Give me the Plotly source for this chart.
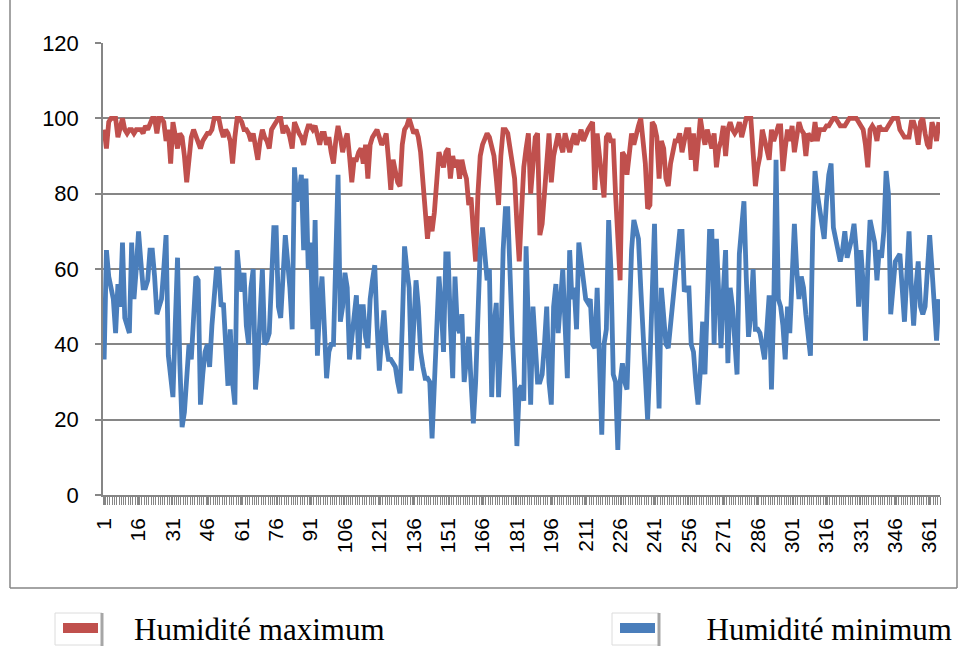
import plotly.graph_objects as go

days = list(range(1, 366))

hum_max = [
    97, 92, 99, 100, 100, 100, 95, 97, 100, 97, 96, 97, 97, 96, 97, 97, 97, 96, 98, 97,
    99, 100, 100, 96, 100, 100, 99, 94, 97, 88, 99, 95, 92, 96, 95, 90, 83,
    89, 95, 97, 95, 94, 92, 94, 95, 96, 96, 97, 100, 100, 100, 97, 95, 97, 96, 94, 88,
    95, 100, 100, 99, 97, 97, 96, 94, 96, 92, 89, 94, 97, 95, 94, 92, 97, 98,
    99, 100, 100, 96, 98, 97, 95, 92, 99, 97, 96, 95, 93, 96, 98, 98, 97, 98, 96, 93,
    96, 96, 93, 95, 91, 88, 94, 98, 95, 91, 94, 96, 90, 83, 89, 89, 91, 92,
    88, 93, 84, 93, 95, 96, 97, 95, 93, 94, 96, 89, 81, 89, 86, 83, 82, 93, 97, 98,
    100, 98, 96, 97, 95, 91, 84, 75, 68, 74, 70, 75, 84, 91, 89, 87, 91,
    92, 84, 90, 87, 89, 84, 89, 86, 84, 77, 79, 70, 62, 80, 90, 93, 95, 96, 95, 93,
    90, 84, 77, 90, 97, 97, 96, 92, 88, 84, 72, 62, 75, 87, 92, 96, 80,
    90, 95, 96, 69, 72, 80, 87, 96, 83, 90, 93, 96, 93, 91, 96, 94, 91, 94, 96, 93,
    95, 97, 94, 96, 97, 98, 99, 81, 96, 90, 84, 79, 95, 96, 94, 94, 80, 67,
    57, 91, 90, 85, 91, 96, 93, 96, 98, 100, 95, 88, 76, 77, 99, 98, 95, 84, 94, 92,
    84, 82, 88, 92, 94, 94, 96, 91, 95, 97, 97, 89, 96, 86, 93,
    100, 96, 93, 97, 94, 92, 96, 87, 92, 94, 98, 90, 97, 99, 97, 96, 97, 99, 95, 97,
    100, 100, 100, 91, 82, 87, 90, 97, 94, 91, 89, 97, 94, 96, 98, 98, 86, 92,
    97, 94, 98, 91, 95, 99, 97, 96, 90, 96, 95, 94, 99, 94, 97, 97, 97, 98, 98, 99,
    100, 100, 99, 98, 98, 98, 99, 100, 100, 100, 100, 99, 98, 97, 93, 87, 97,
    98, 97, 94, 98, 97, 97, 97, 98, 99, 100, 100, 100, 97, 96, 95, 95, 95, 99, 99, 97,
    93, 99, 100, 96, 93, 92, 99, 97, 94, 99,
]

hum_min = [
    36, 65, 58, 55, 52, 43, 56, 50, 67, 47, 45, 43, 67, 52, 60, 70, 62, 55, 55, 57,
    65, 65, 58, 48, 50, 52, 60, 69, 37, 30, 26, 45, 63, 35, 18, 22, 30,
    40, 36, 50, 58, 57, 24, 32, 38, 40, 34, 45, 55, 60, 60, 50, 51, 40, 29, 44, 30,
    24, 65, 58, 54, 59, 45, 40, 55, 60, 28, 35, 45, 60, 40, 41, 43, 60, 71,
    71, 50, 47, 60, 69, 62, 55, 44, 87, 78, 80, 85, 65, 84, 60, 67, 44, 73, 37, 50,
    58, 45, 31, 38, 40, 40, 60, 85, 46, 50, 59, 55, 36, 42, 48, 53, 36, 50,
    50, 42, 39, 52, 57, 61, 45, 33, 42, 49, 40, 36, 36, 35, 34, 30, 27, 45, 66, 60,
    55, 33, 45, 57, 50, 38, 34, 31, 31, 30, 15, 30, 45, 58, 50, 38, 64,
    64, 45, 31, 58, 45, 43, 48, 30, 36, 42, 30, 19, 30, 45, 65, 71, 62, 57, 60, 26,
    45, 51, 26, 40, 65, 76, 76, 55, 42, 30, 13, 28, 29, 25, 66, 45, 24,
    50, 40, 30, 30, 32, 40, 50, 30, 24, 50, 56, 43, 50, 60, 45, 31, 65, 52, 55, 44,
    67, 62, 55, 52, 51, 52, 40, 39, 55, 35, 16, 40, 44, 73, 60, 32, 30, 12,
    30, 35, 30, 28, 50, 65, 73, 70, 68, 55, 44, 30, 20, 35, 50, 72, 45, 23, 55, 45,
    40, 39, 45, 52, 58, 64, 70, 70, 54, 55, 55, 40, 38, 30, 24,
    33, 46, 32, 55, 70, 70, 40, 68, 50, 39, 54, 65, 35, 55, 50, 40, 32, 64, 70, 78,
    58, 42, 48, 60, 44, 44, 43, 40, 36, 44, 53, 28, 50, 89, 52, 50, 45, 36,
    50, 43, 60, 72, 60, 52, 58, 55, 48, 42, 37, 70, 86, 80, 76, 74, 68, 78, 85, 88,
    71, 68, 65, 62, 65, 70, 63, 65, 68, 72, 65, 50, 65, 56, 41, 60, 73,
    70, 67, 57, 65, 63, 70, 86, 80, 48, 55, 62, 63, 64, 55, 46, 58, 70, 55, 45, 55,
    62, 50, 48, 50, 60, 69, 60, 50, 41, 52,
]

tick_days = [1, 16, 31, 46, 61, 76, 91, 106, 121, 136, 151, 166, 181,
             196, 211, 226, 241, 256, 271, 286, 301, 316, 331, 346, 361]
y_ticks = [0, 20, 40, 60, 80, 100, 120]

series_names = ["Humidité maximum", "Humidité minimum"]
series_colors = ["#C0504D", "#4A7EBB"]

AXIS_GRAY = "#868686"
NBSP = "\u00a0"

fig = go.Figure()
for vals, name, col in zip([hum_max, hum_min], series_names, series_colors):
    fig.add_trace(go.Scatter(
        x=days, y=vals, mode="lines", name=name,
        line=dict(color=col, width=4.8), showlegend=False,
    ))
# legend swatches (one legend per entry so each can be placed like the original)
pads = [NBSP * 4, NBSP * 6]
for i, (name, col, pad) in enumerate(zip(series_names, series_colors, pads)):
    fig.add_trace(go.Scatter(
        x=[None], y=[None], mode="lines", name=pad + name,
        line=dict(color=col, width=17), showlegend=True,
        legend="legend" if i == 0 else "legend2",
    ))

legend_common = dict(
    orientation="h", y=-0.295, yanchor="middle", xanchor="left",
    font=dict(family="Liberation Serif", size=31, color="black"),
    itemwidth=35, bgcolor="rgba(0,0,0,0)",
)
fig.update_layout(
    width=958, height=648,
    margin=dict(l=103, r=18, t=43, b=153, autoexpand=False),
    paper_bgcolor="white", plot_bgcolor="white",
    font=dict(family="Liberation Sans", size=22, color="black"),
    legend=dict(x=(58 - 103) / 837, **legend_common),
    legend2=dict(x=(615 - 103) / 837, **legend_common),
    showlegend=True,
)

fig.update_xaxes(
    range=[0.5, 365.5], tickmode="array", tickvals=tick_days,
    ticktext=[str(d) for d in tick_days], tickangle=-90,
    showgrid=False, zeroline=False,
    showline=True, linecolor=AXIS_GRAY, linewidth=1.5,
    ticks="outside", ticklen=8, tickcolor=AXIS_GRAY, tickwidth=1,
    ticklabelstandoff=5,
    minor=dict(tickmode="linear", tick0=0.5, dtick=1, ticks="outside",
               ticklen=8, tickcolor=AXIS_GRAY, tickwidth=1, showgrid=False),
    tickfont=dict(family="Liberation Sans", size=21, color="black"),
)
fig.update_yaxes(
    range=[0, 120], tickmode="array", tickvals=y_ticks,
    showgrid=True, gridcolor=AXIS_GRAY, gridwidth=1.5, zeroline=False,
    showline=True, linecolor=AXIS_GRAY, linewidth=1.5,
    ticks="outside", ticklen=6, tickcolor=AXIS_GRAY, tickwidth=1.5,
    ticklabelstandoff=12,
    tickfont=dict(family="Liberation Sans", size=22, color="black"),
)

# outer chart border (left, bottom, right edges)
bx0, bx1 = (10 - 103) / 837, (957 - 103) / 837
by0, by1 = (495 - 588) / 452, (495 - 0) / 452
for x0, y0, x1, y1 in [(bx0, by0, bx0, by1), (bx0, by0, bx1, by0), (bx1, by0, bx1, by1)]:
    fig.add_shape(type="line", xref="paper", yref="paper",
                  x0=x0, y0=y0, x1=x1, y1=y1,
                  line=dict(color=AXIS_GRAY, width=1.5), layer="below")

# subtle framed boxes behind the legend swatches
def px_x(p):
    return (p - 103) / 837

def px_y(p):
    return (495 - p) / 452

for left in (55, 612):
    fig.add_shape(type="rect", xref="paper", yref="paper",
                  x0=px_x(left), x1=px_x(left + 47), y0=px_y(645), y1=px_y(613),
                  line=dict(color="#dcdcdc", width=1), fillcolor="rgba(0,0,0,0)",
                  layer="below")
    fig.add_shape(type="line", xref="paper", yref="paper",
                  x0=px_x(left + 47), x1=px_x(left + 47), y0=px_y(646), y1=px_y(613),
                  line=dict(color="#a6a6a6", width=3), layer="below")

fig.write_html("out.html")
